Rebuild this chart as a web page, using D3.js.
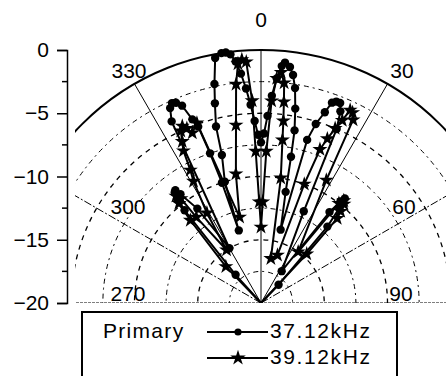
<!DOCTYPE html>
<html>
<head>
<meta charset="utf-8">
<script src="https://cdnjs.cloudflare.com/ajax/libs/d3/7.8.5/d3.min.js"></script>
<style>
body { margin: 0; background: #fff; }
text { font-family: "Liberation Sans", Arial, sans-serif; }
</style>
</head>
<body>
<script>
// beam pattern, angle in degrees (0 = up, clockwise), level in dB
var angles1 = [-42,-39.5,-38.7,-37.9,-37.2,-36.5,-34,
  -30,-26.2,-25,-24,-23,-21.8,-20.5,-19.6,-18.8,-18,-17,
  -16.6,-14.8,-14.3,-13,-12,-10.6,-9,-8,-7,-6,-5,-4,-3,-2,-1,0,1,2,3,4,5,5.7,7,8,9,10,11,11.6,12.5,
  15,15.8,17,18.5,19.5,20.5,21.6,22.5,23.5,25,
  33,37,38,38.7,39.5,41,44];
var level1 = [-17,-10.5,-9.4,-8.9,-8.8,-9.3,-11,
  -15,-4,-3,-2.7,-2.8,-3.2,-4.5,-5.2,-7.5,-10,-14,
  -10,-7.9,-5.6,-3.8,-2.3,-0.3,0,0,-0.2,-0.8,-1.8,-3,-4.3,-5.6,-6.7,-7.3,-6.6,-5.2,-3.6,-2.2,-1.2,-0.9,-1.2,-1.8,-2.8,-4.4,-6.1,-8.2,-11,
  -14,-6.6,-5.2,-4.1,-3.2,-3,-3,-3.6,-5,-12,
  -17,-11,-9.8,-9.4,-10.2,-12,-18];

var angles2 = [-44,-40.5,-39.5,-38.5,-37.5,-37,-33,
  -31,-29,-28,-27,-26,-25,-24,-23,-22,-19.6,
  -14,-11,-8,-6.5,-5.5,-4.5,-3.5,-2.5,-2,-1,0,1,2,3,4,5,6,6.5,7,7.5,9,12.5,
  19,20,21,22,23,24,24.8,25.7,26.7,28,
  36,38,39,40,41,42,43];
var level2 = [-16,-11.4,-9.8,-9.2,-9.6,-11.5,-15,
  -11.7,-9,-8.1,-6.5,-5.8,-5,-4.7,-5,-5.5,-4.9,
  -13,-9.6,-5.8,-2.6,-1,-0.7,-0.9,-4,-8,-12,-14,-12,-8,-4,-2.2,-1.7,-2.5,-4,-5.5,-7,-10,-16.4,
  -16,-10,-7,-6,-5,-4.2,-3.2,-3.3,-3.8,-9,
  -15,-10,-9.6,-9.8,-10.4,-11,-14.7];

var seriesNames = ["37.12kHz", "39.12kHz"];
var legendTitle = "Primary";
var yTicks = [0, -5, -10, -15, -20];
var ringLevels = [-17.5, -15, -12.5, -10, -7.5, -5, -2.5];
var spokeAngles = [-60, -30, 0, 30, 60];
var spokeLabels = [270, 300, 330, 0, 30, 60, 90];

var width = 446, height = 376;
var cx = 261, cy = 303, outer = 253;

var svg = d3.select("body").append("svg")
  .attr("width", width).attr("height", height);

var r = d3.scaleLinear().domain([-20, 0]).range([0, outer]).clamp(true);
var y = d3.scaleLinear().domain([-20, 0]).range([cy, cy - outer]);

svg.append("clipPath").attr("id", "clip")
  .append("rect").attr("x", 75).attr("y", 0).attr("width", 372).attr("height", cy);

var plot = svg.append("g").attr("clip-path", "url(#clip)");
var g = plot.append("g").attr("transform", "translate(" + cx + "," + cy + ")");

// rings
g.selectAll(".ring").data(ringLevels).enter().append("circle")
  .attr("r", function(d) { return r(d); })
  .attr("fill", "none").attr("stroke", "#000")
  .attr("stroke-width", function(d) { return d % 5 == 0 ? 1.3 : 1; })
  .attr("stroke-dasharray", function(d) { return d % 5 == 0 ? "5,5" : "2,4,5,4"; });

g.append("circle").attr("r", outer)
  .attr("fill", "none").attr("stroke", "#000").attr("stroke-width", 2);

// spokes
g.selectAll(".spoke").data(spokeAngles).enter().append("line")
  .attr("x1", 0).attr("y1", 0)
  .attr("x2", function(d) { return outer * Math.sin(d * Math.PI / 180); })
  .attr("y2", function(d) { return -outer * Math.cos(d * Math.PI / 180); })
  .attr("stroke", "#000").attr("stroke-width", 1)
  .attr("stroke-dasharray", function(d) { return Math.abs(d) == 60 ? "8,2,2,2" : null; });

g.append("line").attr("x1", -outer).attr("x2", outer).attr("y1", 0).attr("y2", 0)
  .attr("stroke", "#000").attr("stroke-width", 1.2).attr("stroke-dasharray", "3,1");

// data
function pts(a, v) {
  return a.map(function(d, i) { return {a: d, v: v[i]}; });
}
var series = [pts(angles1, level1), pts(angles2, level2)];
var symbols = [d3.symbolCircle, d3.symbolStar];
var symSize = [55, 70];

var line = d3.lineRadial()
  .angle(function(d) { return d.a * Math.PI / 180; })
  .radius(function(d) { return r(d.v); });

series.forEach(function(s, k) {
  // each series starts and ends at the centre of the plot
  var full = [{a: s[0].a, v: -20}].concat(s, [{a: s[s.length - 1].a, v: -20}]);
  g.append("path").datum(full).attr("d", line)
    .attr("fill", "none").attr("stroke", "#000").attr("stroke-width", 2);
  g.selectAll(".m" + k).data(s).enter()
    .append("path")
    .attr("d", d3.symbol().type(symbols[k]).size(symSize[k]))
    .attr("transform", function(d) {
      var t = d.a * Math.PI / 180;
      return "translate(" + (r(d.v) * Math.sin(t)) + "," + (-r(d.v) * Math.cos(t)) + ")";
    })
    .attr("fill", "#000");
});

// angle labels
var labelPos = {0: [261, 27], 30: [402, 78], 330: [129, 78], 60: [404, 214], 300: [128, 214], 90: [401, 301], 270: [128, 301]};
svg.selectAll(".alab").data(spokeLabels).enter().append("text")
  .attr("x", function(d) { return labelPos[d][0]; })
  .attr("y", function(d) { return labelPos[d][1]; })
  .attr("text-anchor", "middle")
  .attr("font-size", 21)
  .text(function(d) { return d; });

// left axis
var axis = svg.append("g").attr("transform", "translate(67,0)")
  .call(d3.axisLeft(y).tickValues(yTicks).tickSize(10).tickPadding(8).tickFormat(d3.format("d")));
axis.select(".domain").attr("stroke-width", 1.5);
axis.selectAll(".tick line").attr("stroke-width", 1.5);
axis.selectAll("text").attr("font-size", 21).attr("font-family", "Liberation Sans, Arial, sans-serif");
axis.selectAll(".minor").data([-2.5, -7.5, -12.5, -17.5]).enter().append("line")
  .attr("x1", -5).attr("x2", 0)
  .attr("y1", function(d) { return y(d); }).attr("y2", function(d) { return y(d); })
  .attr("stroke", "#000").attr("stroke-width", 1.5);

// legend
var lg = svg.append("g");
lg.append("rect").attr("x", 82).attr("y", 312).attr("width", 315).attr("height", 80)
  .attr("fill", "#fff").attr("stroke", "#000").attr("stroke-width", 2);
lg.append("text").attr("x", 103).attr("y", 338).attr("font-size", 21)
  .attr("letter-spacing", 1.3).text(legendTitle);
seriesNames.forEach(function(name, k) {
  var ly = 332 + k * 26;
  lg.append("line").attr("x1", 207).attr("x2", 268).attr("y1", ly).attr("y2", ly)
    .attr("stroke", "#000").attr("stroke-width", 2);
  lg.append("path").attr("d", d3.symbol().type(symbols[k]).size(k ? 75 : 40))
    .attr("transform", "translate(238," + ly + ")");
  lg.append("text").attr("x", 270).attr("y", ly + 6).attr("font-size", 21)
    .attr("letter-spacing", 1.6).text(name);
});
</script>
</body>
</html>
